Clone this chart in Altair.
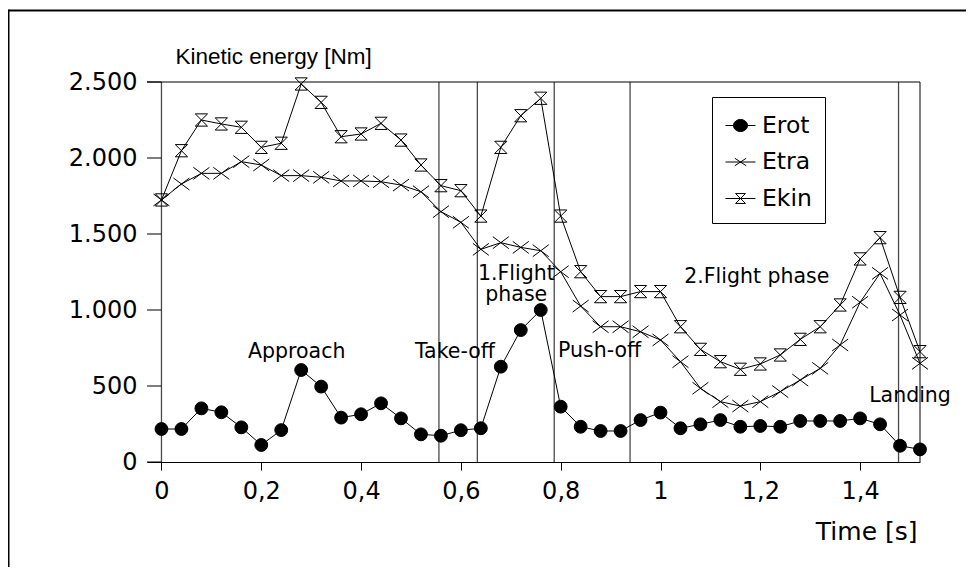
import altair as alt
import pandas as pd

# ---- data ----
time = [0.00, 0.04, 0.08, 0.12, 0.16, 0.20, 0.24, 0.28, 0.32, 0.36,
        0.40, 0.44, 0.48, 0.52, 0.56, 0.60, 0.64, 0.68, 0.72, 0.76,
        0.80, 0.84, 0.88, 0.92, 0.96, 1.00, 1.04, 1.08, 1.12, 1.16,
        1.20, 1.24, 1.28, 1.32, 1.36, 1.40, 1.44, 1.48, 1.52]
erot = [217, 217, 353, 327, 228, 112, 210, 605, 496, 292,
        314, 386, 287, 182, 173, 209, 222, 627, 868, 1000,
        364, 232, 204, 204, 276, 325, 222, 248, 276, 232,
        237, 232, 270, 270, 270, 287, 248, 107, 83]
etra = [1724, 1829, 1899, 1899, 1976, 1954, 1884, 1884, 1873, 1849,
        1849, 1844, 1822, 1778, 1647, 1577, 1399, 1443, 1412, 1390,
        1252, 1026, 890, 890, 857, 803, 660, 485, 397, 368,
        397, 463, 539, 616, 770, 1051, 1241, 967, 649]
ekin = [1724, 2048, 2250, 2224, 2202, 2070, 2097, 2487, 2366, 2140,
        2158, 2228, 2118, 1954, 1818, 1785, 1618, 2070, 2278, 2393,
        1618, 1252, 1088, 1088, 1121, 1121, 890, 741, 660, 610,
        645, 704, 807, 890, 1033, 1336, 1476, 1083, 726]
series_names = ["Erot", "Etra", "Ekin"]

phase_bounds = [0.0, 0.556, 0.633, 0.787, 0.939, 1.477]
x_ticks = [0, 0.2, 0.4, 0.6, 0.8, 1.0, 1.2, 1.4]
y_ticks = [0, 500, 1000, 1500, 2000, 2500]

ann_text = ["Approach", "Take-off", "Push-off", "1.Flight\nphase",
            "2.Flight phase", "Landing"]
ann_t = [0.271, 0.588, 0.878, 0.711, 1.193, 1.500]
ann_e = [686, 686, 693, 1198, 1178, 397]

# ---- tables ----
n = len(time)
df = pd.DataFrame({
    "time": time * 3,
    "energy": erot + etra + ekin,
    "series": ["Erot"] * n + ["Etra"] * n + ["Ekin"] * n,
})
phase_df = pd.DataFrame({"t": phase_bounds})
X_MIN, X_MAX = -0.029, 1.52
ytick_df = pd.DataFrame({"v": y_ticks, "x0": [X_MIN] * len(y_ticks), "x1": [0.0] * len(y_ticks)})
ann_df = pd.DataFrame({"label": ann_text, "time": ann_t, "energy": ann_e})

xscale = alt.Scale(domain=[X_MIN, X_MAX], nice=False, zero=False)
yscale = alt.Scale(domain=[0, 2500], nice=False, zero=True)

LABEL_FONT = "DejaVu Sans"

x_axis = alt.Axis(
    values=x_ticks, grid=False, domainColor="black", domainWidth=1,
    tickColor="black", tickSize=8, tickWidth=1, labelFlush=False,
    labelFont=LABEL_FONT, labelFontSize=24, labelColor="black", labelPadding=9,
    labelExpr="replace(format(datum.value, '.1~f'), '.', ',')",
    title="Time [s]", titleX=770, titleY=77, titleAlign="right",
    titleBaseline="alphabetic", titleFont=LABEL_FONT, titleFontSize=25,
    titleFontWeight="normal", titleColor="black",
)
y_axis = alt.Axis(
    values=y_ticks, grid=False, domain=False, ticks=False, tickSize=0,
    labelFont=LABEL_FONT, labelFontSize=24, labelColor="black", labelPadding=10,
    labelExpr="replace(format(datum.value, ','), ',', '.')",
    title="Kinetic energy [Nm]", titleAngle=0, titleX=28, titleY=-19,
    titleAlign="left", titleBaseline="alphabetic", titleFont="Liberation Sans",
    titleFontSize=22.5, titleFontWeight="normal", titleColor="black",
)

# outer figure frame (decoration): only top and left edges are inside the picture
one = pd.DataFrame({"a": [0]})
frame_top = alt.Chart(one).mark_rule(color="black", strokeWidth=2).encode(
    x=alt.value(-138.5), x2=alt.value(1200), y=alt.value(-71.5)
)
frame_left = alt.Chart(one).mark_rule(color="black", strokeWidth=2).encode(
    x=alt.value(-138.5), y=alt.value(-72.5), y2=alt.value(900)
)

phase_rules = alt.Chart(phase_df).mark_rule(color="#4a4a4a", strokeWidth=1.3).encode(
    x=alt.X("t:Q", scale=xscale)
)
top_rule = alt.Chart(one).mark_rule(color="black", strokeWidth=1).encode(
    y=alt.datum(2500)
)
right_rule = alt.Chart(one).mark_rule(color="black", strokeWidth=1).encode(
    x=alt.datum(X_MAX)
)
ytick_rules = alt.Chart(ytick_df).mark_rule(color="black", strokeWidth=1).encode(
    x="x0:Q", x2="x1", y="v:Q"
)

lines = alt.Chart(df).mark_line(color="black", strokeWidth=1).encode(
    x=alt.X("time:Q", scale=xscale, axis=x_axis),
    y=alt.Y("energy:Q", scale=yscale, axis=y_axis),
    detail="series:N",
)

X_PATH = "M-1,-0.75L1,0.75M-1,0.75L1,-0.75"
HG_PATH = "M-1,-1L1,-1L-1,1L1,1Z"

pts_erot = alt.Chart(df).transform_filter(alt.datum.series == "Erot").mark_point(
    shape="circle", filled=True, fill="black", stroke="black", strokeWidth=1, size=165, opacity=1
).encode(x="time:Q", y="energy:Q")
pts_etra = alt.Chart(df).transform_filter(alt.datum.series == "Etra").mark_point(
    shape=X_PATH, filled=False, stroke="black", strokeWidth=1, size=256, opacity=1
).encode(x="time:Q", y="energy:Q")
pts_ekin = alt.Chart(df).transform_filter(alt.datum.series == "Ekin").mark_point(
    shape=HG_PATH, filled=False, stroke="black", strokeWidth=1, size=150, opacity=1
).encode(x="time:Q", y="energy:Q")

annotations = alt.Chart(ann_df).mark_text(
    font=LABEL_FONT, fontSize=20.5, align="center", baseline="alphabetic", color="black",
    lineBreak="\n", lineHeight=21,
).encode(x="time:Q", y="energy:Q", text="label:N")

# legend symbols: line through marker
LEG_PATHS = [
    "M-1,0L1,0M-0.47,0A0.47,0.4 0 1,0 0.47,0A0.47,0.4 0 1,0 -0.47,0Z",
    "M-1,0L1,0M-0.38,-0.25L0.38,0.25M-0.38,0.25L0.38,-0.25",
    "M-1,0L1,0M-0.33,-0.33L0.33,-0.33L-0.33,0.33L0.33,0.33Z",
]
legend_def = alt.Legend(
    title=None, orient="none", legendX=565, legendY=15, padding=13,
    strokeColor="black", fillColor="white", symbolSize=900,
    symbolStrokeWidth=1,
    labelFont=LABEL_FONT, labelFontSize=23.5, labelColor="black",
    labelOffset=6, rowPadding=9.5, labelExpr="datum.label + ' '",
)
legend_layer = alt.Chart(df).transform_filter("false").mark_point(
    filled=True, strokeWidth=1, opacity=1
).encode(
    x="time:Q", y="energy:Q",
    shape=alt.Shape("series:N", scale=alt.Scale(domain=series_names, range=LEG_PATHS), legend=legend_def),
    fill=alt.Fill("series:N", scale=alt.Scale(domain=series_names, range=["black", "transparent", "transparent"]), legend=legend_def),
    stroke=alt.Stroke("series:N", scale=alt.Scale(domain=series_names, range=["black", "black", "black"]), legend=legend_def),
)

chart = alt.layer(
    frame_top, frame_left, phase_rules, top_rule, right_rule, ytick_rules,
    lines, pts_erot, pts_etra, pts_ekin, annotations, legend_layer,
).properties(
    width=773, height=380,
    autosize=alt.AutoSizeParams(type="none"),
    padding={"left": 139, "top": 74, "right": 46, "bottom": 105},
    background="white",
).configure_view(strokeWidth=0)

chart.save("out.html", embed_options={"renderer": "svg", "actions": False})
